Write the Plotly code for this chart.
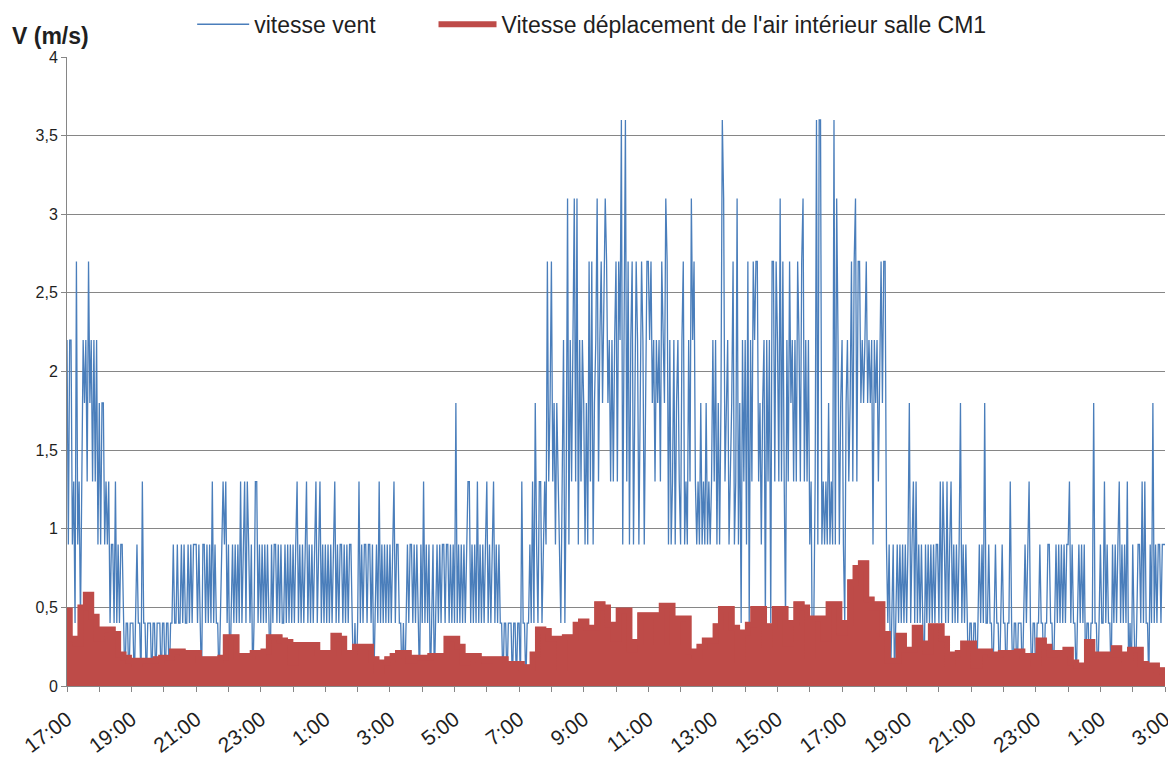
import pandas as pd
import plotly.graph_objects as go

# ---------------- data ----------------
start_time = "2012-06-04 17:00"
end_time = "2012-06-06 03:00"

# wind speed (m/s), 24 readings per hour (2.5 min), one row per hour from 17:00
wind_speed = [
    2.2,0.9,2.2,2.2,0.9,1.3,0.4,2.7,0.9,1.3,0.4,1.3,2.2,1.8,2.2,1.3,2.7,1.8,2.2,1.3,2.2,1.3,2.2,0.9,  # 17h
    1.8,0.9,1.8,1.8,0.9,1.3,0.9,1.3,0.4,0.9,0.9,0.4,1.3,0.4,0.9,0.4,0.9,0.9,0.4,0.0,0.4,0.4,0.0,0.4,  # 18h
    0.4,0.4,0.0,0.4,0.9,0.4,0.4,0.0,1.3,0.4,0.4,0.0,0.4,0.4,0.4,0.0,0.4,0.4,0.0,0.4,0.4,0.4,0.0,0.4,  # 19h
    0.4,0.0,0.4,0.4,0.0,0.4,0.4,0.9,0.4,0.4,0.9,0.4,0.4,0.9,0.4,0.9,0.4,0.4,0.9,0.4,0.9,0.4,0.9,0.9,  # 20h
    0.9,0.4,0.9,0.4,0.0,0.9,0.9,0.4,0.9,0.4,0.9,0.4,1.3,0.4,0.9,0.4,0.4,0.0,0.4,0.9,1.3,0.9,1.3,0.4,  # 21h
    0.9,0.0,0.4,0.9,0.4,0.9,0.4,0.9,0.4,1.3,0.4,0.9,1.3,0.4,1.3,0.9,0.4,0.9,0.0,0.4,1.3,1.3,0.4,0.9,  # 22h
    0.4,0.9,0.4,0.9,0.4,0.9,0.4,0.0,0.9,0.4,0.9,0.9,0.4,0.9,0.4,0.9,0.4,0.4,0.9,0.4,0.9,0.4,0.9,0.4,  # 23h
    0.9,0.4,0.9,1.3,0.4,0.9,0.4,0.9,0.4,0.9,1.3,0.4,0.9,0.4,0.9,0.4,0.9,1.3,0.4,0.9,1.3,0.4,0.9,0.4,  # 0h
    0.9,0.4,0.9,0.4,0.9,0.4,0.9,1.3,0.4,0.9,0.4,0.9,0.9,0.4,0.9,0.4,0.9,0.4,0.9,0.9,0.4,0.0,0.4,0.0,  # 1h
    0.4,1.3,0.4,0.9,0.4,0.9,0.9,0.4,0.9,0.9,0.4,0.9,0.0,0.4,0.9,0.4,1.3,0.4,0.9,0.4,0.9,0.4,0.9,0.4,  # 2h
    0.9,0.4,0.9,1.3,0.4,0.9,0.9,0.4,0.4,0.0,0.4,0.0,0.4,0.9,0.4,0.9,0.9,0.4,0.9,0.4,0.9,0.4,0.0,0.9,  # 3h
    0.4,1.3,0.4,0.9,0.4,0.9,0.0,0.4,0.9,0.0,0.4,0.9,0.4,0.9,0.4,0.9,0.9,0.4,0.9,0.9,0.4,0.9,0.4,0.9,  # 4h
    0.4,1.8,0.4,0.9,0.4,0.9,0.4,0.9,0.4,0.9,1.3,1.3,0.4,0.9,0.4,0.9,0.4,1.3,0.4,0.9,0.4,0.9,0.4,0.9,  # 5h
    1.3,0.4,0.9,0.4,0.9,1.3,0.4,0.9,0.4,0.9,0.4,0.4,0.0,0.4,0.4,0.0,0.4,0.4,0.4,0.0,0.4,0.4,0.0,0.4,  # 6h
    0.4,0.0,1.3,0.4,0.4,0.0,0.4,0.4,0.9,0.4,1.3,0.4,1.8,0.9,0.4,1.3,1.3,0.4,0.9,1.3,0.9,2.7,1.3,1.8,  # 7h
    2.7,1.3,1.8,0.9,1.8,1.3,0.9,0.4,1.3,2.2,0.4,1.3,3.1,0.9,2.2,1.3,2.2,3.1,1.3,3.1,0.9,2.2,1.3,2.2,  # 8h
    1.8,0.9,1.8,0.9,2.7,1.3,2.7,0.9,1.8,2.2,3.1,1.3,2.2,2.7,1.8,2.7,3.1,2.7,1.8,2.2,1.3,2.2,1.3,2.2,  # 9h
    2.7,1.3,2.7,2.2,3.6,0.9,2.7,3.6,1.3,2.7,0.9,2.2,2.7,0.9,1.8,2.7,2.2,0.9,1.8,2.7,2.2,0.9,1.8,2.7,  # 10h
    2.7,2.2,2.7,1.8,2.2,1.3,2.2,1.8,2.2,1.3,2.7,2.2,1.8,3.1,2.7,0.9,2.2,0.9,1.3,2.2,0.9,1.8,2.2,1.3,  # 11h
    0.9,2.2,2.7,0.9,1.3,0.9,2.2,1.3,3.1,2.2,2.7,1.3,0.9,1.3,0.9,1.8,0.9,1.3,0.9,1.8,0.9,1.3,0.9,1.3,  # 12h
    2.2,1.3,2.2,0.9,1.8,0.9,1.8,3.6,3.1,1.3,1.8,2.2,0.9,1.3,1.8,2.7,0.9,1.3,3.1,0.9,1.8,0.4,2.2,1.3,  # 13h
    2.2,0.9,2.7,0.4,2.2,1.3,2.7,2.2,2.7,2.7,1.3,1.8,0.9,1.8,2.2,0.4,2.2,1.3,2.2,0.4,2.7,2.7,1.3,2.7,  # 14h
    2.2,1.3,3.1,1.3,2.7,1.3,0.4,2.2,1.3,2.7,1.8,2.2,1.3,2.2,1.3,2.7,2.2,1.3,2.7,3.1,1.3,2.2,1.3,2.2,  # 15h
    0.9,1.3,0.0,0.4,1.3,3.6,0.9,3.6,3.6,0.9,1.3,0.9,1.3,0.9,1.8,0.9,1.3,0.9,3.6,0.9,3.1,2.2,0.9,1.8,  # 16h
    2.2,0.9,0.4,1.8,2.2,1.3,1.8,2.7,1.3,2.7,3.1,1.3,2.7,2.7,1.8,2.2,1.8,2.2,2.7,1.8,2.2,1.8,2.2,0.9,  # 17h
    2.2,1.8,2.2,1.3,2.2,2.7,1.8,2.7,2.7,0.9,0.4,0.9,0.0,0.4,0.9,0.0,0.4,0.9,0.4,0.9,0.4,0.9,0.4,0.9,  # 18h
    0.4,0.9,1.8,0.4,0.9,1.3,0.4,1.3,0.4,0.9,0.4,0.9,0.4,0.0,0.9,0.4,0.9,0.4,0.9,0.4,0.9,0.4,0.9,0.9,  # 19h
    0.4,1.3,0.4,1.3,0.9,0.4,1.3,0.4,0.9,1.3,0.4,0.9,0.4,0.9,0.4,0.9,1.8,0.4,0.9,0.4,0.9,0.4,0.0,0.4,  # 20h
    0.4,0.0,0.4,0.4,0.0,0.4,0.9,0.4,0.9,0.4,1.8,0.4,0.4,0.9,0.4,0.4,0.0,0.4,0.9,0.4,0.4,0.0,0.4,0.9,  # 21h
    0.4,0.4,0.0,0.4,0.4,1.3,0.4,0.0,0.4,0.4,0.0,0.4,0.4,0.4,0.0,0.4,0.9,0.4,0.9,1.3,0.4,0.0,0.4,0.4,  # 22h
    0.0,0.4,0.4,0.9,0.4,0.4,0.0,0.4,0.4,0.9,0.9,0.4,0.4,0.0,0.4,0.9,0.4,0.9,0.4,0.9,0.4,0.9,0.4,0.9,  # 23h
    0.9,1.3,0.4,0.9,0.4,0.4,0.0,0.4,0.9,0.4,0.9,0.4,0.9,0.0,0.4,0.4,0.0,0.4,0.4,1.8,0.4,0.4,0.0,0.4,  # 0h
    0.9,0.4,0.4,1.3,0.4,0.9,0.4,0.4,0.0,0.9,0.4,0.9,0.4,0.9,1.3,0.4,0.9,0.4,0.9,0.4,1.3,0.0,0.4,0.0,  # 1h
    0.9,0.4,0.0,0.4,0.9,0.9,0.4,1.3,0.4,1.3,0.4,0.4,0.0,0.9,0.4,1.8,0.4,0.9,0.4,0.9,0.9,0.4,0.9,0.9,  # 2h
    0.9,
]

# indoor air speed, room CM1 (m/s), one value every 10 minutes
air_speed = [
    0.48, 0.30, 0.27, 0.50, 0.58, 0.44,   # 17h
    0.30, 0.36, 0.36, 0.33, 0.20, 0.18,   # 18h
    0.16, 0.14, 0.16, 0.16, 0.16, 0.17,   # 19h
    0.18, 0.18, 0.22, 0.22, 0.21, 0.21,   # 20h
    0.21, 0.17, 0.17, 0.17, 0.17, 0.18,   # 21h
    0.31, 0.31, 0.19, 0.19, 0.19, 0.21,   # 22h
    0.21, 0.22, 0.31, 0.31, 0.29, 0.28,   # 23h
    0.15, 0.26, 0.26, 0.26, 0.26, 0.21,   # 0h
    0.21, 0.21, 0.32, 0.30, 0.21, 0.21,   # 1h
    0.25, 0.25, 0.25, 0.17, 0.10, 0.15,   # 2h
    0.17, 0.19, 0.21, 0.21, 0.16, 0.18,   # 3h
    0.18, 0.18, 0.19, 0.19, 0.19, 0.30,   # 4h
    0.30, 0.25, 0.15, 0.19, 0.19, 0.17,   # 5h
    0.16, 0.17, 0.17, 0.17, 0.14, 0.14,   # 6h
    0.14, 0.12, 0.12, 0.20, 0.36, 0.35,   # 7h
    0.30, 0.30, 0.12, 0.31, 0.31, 0.39,   # 8h
    0.41, 0.37, 0.37, 0.52, 0.50, 0.39,   # 9h
    0.30, 0.48, 0.48, 0.23, 0.28, 0.45,   # 10h
    0.45, 0.45, 0.28, 0.51, 0.51, 0.28,   # 11h
    0.43, 0.43, 0.22, 0.19, 0.25, 0.29,   # 12h
    0.29, 0.38, 0.49, 0.49, 0.37, 0.17,   # 13h
    0.34, 0.39, 0.49, 0.49, 0.26, 0.38,   # 14h
    0.49, 0.49, 0.27, 0.40, 0.52, 0.50,   # 15h
    0.19, 0.43, 0.43, 0.30, 0.52, 0.52,   # 16h
    0.34, 0.40, 0.66, 0.75, 0.78, 0.55,   # 17h
    0.50, 0.52, 0.33, 0.16, 0.16, 0.32,   # 18h
    0.23, 0.23, 0.37, 0.27, 0.22, 0.38,   # 19h
    0.38, 0.30, 0.14, 0.20, 0.21, 0.27,   # 20h
    0.27, 0.13, 0.22, 0.22, 0.20, 0.20,   # 21h
    0.21, 0.21, 0.21, 0.22, 0.19, 0.19,   # 22h
    0.14, 0.29, 0.25, 0.20, 0.21, 0.21,   # 23h
    0.23, 0.15, 0.13, 0.13, 0.28, 0.20,   # 0h
    0.20, 0.20, 0.20, 0.24, 0.20, 0.17,   # 1h
    0.23, 0.23, 0.14, 0.13, 0.13, 0.10,   # 2h
    0.09,
]

wind_name = "vitesse vent"
air_name = "Vitesse déplacement de l'air intérieur salle CM1"
y_title = "V (m/s)"

wind_time = pd.date_range(start_time, end_time, periods=len(wind_speed))
air_time = pd.date_range(start_time, end_time, periods=len(air_speed))

FONT = "Liberation Sans, Arial, sans-serif"
BLUE = "#4A7EBB"
RED = "#BE4B48"
GRID = "#868686"
TXT = "#1f1f1f"

fig = go.Figure()
fig.add_trace(go.Scatter(
    x=wind_time, y=wind_speed, mode="lines", name=wind_name,
    line=dict(color=BLUE, width=1.3), legend="legend",
))
# filled body of the indoor air-speed curve (thick line looks solid down to 0)
fig.add_trace(go.Scatter(
    x=air_time, y=air_speed, mode="lines", name=air_name, showlegend=False,
    line=dict(color=RED, width=5, shape="hvh"), fill="tozeroy", fillcolor=RED,
))
fig.add_trace(go.Scatter(
    x=air_time, y=air_speed, mode="lines", name=air_name, legend="legend2",
    line=dict(color=RED, width=6, shape="hvh"),
))

legend_common = dict(
    orientation="h", y=1.052, yanchor="middle",
    font=dict(size=23, color=TXT),
    bgcolor="rgba(0,0,0,0)",
)

fig.update_layout(
    width=1168, height=757,
    paper_bgcolor="white", plot_bgcolor="white",
    margin=dict(l=59, r=11, t=49, b=79, autoexpand=False),
    font=dict(family=FONT, size=16, color=TXT),
    separators=", ",
    showlegend=True,
    legend=dict(x=0.114, xanchor="left", itemwidth=52, **legend_common),
    legend2=dict(x=0.3338, xanchor="left", itemwidth=58, **legend_common),
    annotations=[dict(
        text="<b>" + y_title + "</b>", xref="paper", yref="paper", x=-0.0515, y=1.033,
        xanchor="left", yanchor="middle", showarrow=False,
        font=dict(size=23, color=TXT),
    )],
)

fig.update_xaxes(
    type="date",
    range=[start_time, end_time],
    tick0=start_time, dtick=2 * 3600 * 1000,
    tickformat="%-H:%M", tickangle=-37,
    ticks="outside", ticklen=5, tickcolor=GRID,
    minor=dict(ticks="outside", dtick=3600 * 1000, ticklen=5, tickcolor=GRID),
    showgrid=False, showline=True, linecolor=GRID, linewidth=1,
    tickfont=dict(size=21), ticklabelstandoff=7, automargin=False,
)
fig.update_yaxes(
    range=[0, 4], dtick=0.5, tick0=0,
    showgrid=True, gridcolor=GRID, gridwidth=1,
    showline=True, linecolor=GRID, linewidth=1,
    ticks="outside", ticklen=5, tickcolor=GRID,
    zeroline=False, tickfont=dict(size=16), automargin=False,
)

fig.write_html("out.html")
